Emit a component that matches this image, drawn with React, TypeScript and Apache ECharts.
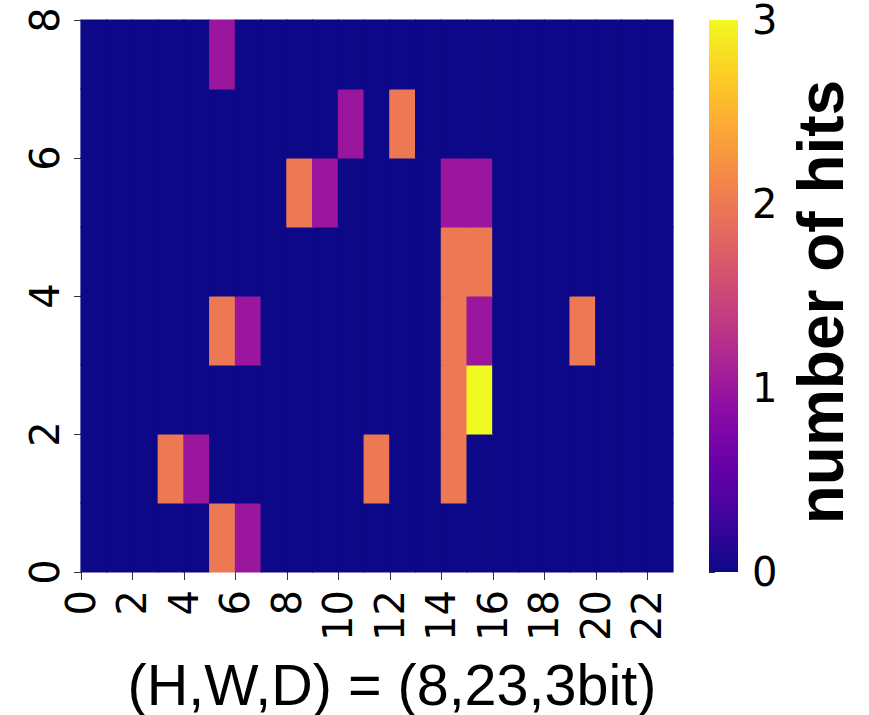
import React, { useEffect, useRef } from 'react';
import * as echarts from 'echarts';

// number of hits per cell, one array per row (row 0 = bottom), 23 columns each
const hitsRow0 = [0, 0, 0, 0, 0, 2, 1, 0, 0, 0, 0, 0, 0, 0, 0, 0, 0, 0, 0, 0, 0, 0, 0];
const hitsRow1 = [0, 0, 0, 2, 1, 0, 0, 0, 0, 0, 0, 2, 0, 0, 2, 0, 0, 0, 0, 0, 0, 0, 0];
const hitsRow2 = [0, 0, 0, 0, 0, 0, 0, 0, 0, 0, 0, 0, 0, 0, 2, 3, 0, 0, 0, 0, 0, 0, 0];
const hitsRow3 = [0, 0, 0, 0, 0, 2, 1, 0, 0, 0, 0, 0, 0, 0, 2, 1, 0, 0, 0, 2, 0, 0, 0];
const hitsRow4 = [0, 0, 0, 0, 0, 0, 0, 0, 0, 0, 0, 0, 0, 0, 2, 2, 0, 0, 0, 0, 0, 0, 0];
const hitsRow5 = [0, 0, 0, 0, 0, 0, 0, 0, 2, 1, 0, 0, 0, 0, 1, 1, 0, 0, 0, 0, 0, 0, 0];
const hitsRow6 = [0, 0, 0, 0, 0, 0, 0, 0, 0, 0, 1, 0, 2, 0, 0, 0, 0, 0, 0, 0, 0, 0, 0];
const hitsRow7 = [0, 0, 0, 0, 0, 1, 0, 0, 0, 0, 0, 0, 0, 0, 0, 0, 0, 0, 0, 0, 0, 0, 0];
const hitRows = [hitsRow0, hitsRow1, hitsRow2, hitsRow3, hitsRow4, hitsRow5, hitsRow6, hitsRow7];

const gridWidthCells = 23;
const gridHeightCells = 8;
const xTicks = [0, 2, 4, 6, 8, 10, 12, 14, 16, 18, 20, 22];
const yTicks = [0, 2, 4, 6, 8];
const cbarTicks = [0, 1, 2, 3];
const cbarRange = [0, 3];

const titleText = '(H,W,D) = (8,23,3bit)';
const bitsText = '552 bits';
const cbarLabel = 'number of hits';

const plasma = [
  '#0d0887', '#41049d', '#6a00a8', '#8f0da4', '#b12a90', '#cc4778',
  '#e16462', '#f2844b', '#fca636', '#fcce25', '#f0f921',
];

const tickFont = 'DejaVu Sans';
const textFont = 'Liberation Sans';

export default function App() {
  const ref = useRef<HTMLDivElement>(null);

  useEffect(() => {
    document.body.style.margin = '0';
    const el = ref.current!;
    const chart = echarts.init(el, null, { renderer: 'svg' });

    const cells: number[][] = [];
    hitRows.forEach((row, r) => row.forEach((v, c) => cells.push([c, r, v])));

    const stops = plasma.map((color, i) => ({ offset: i / (plasma.length - 1), color }));

    const option: any = {
      animation: false,
      backgroundColor: '#ffffff',
      grid: [
        { left: 81, top: 20, width: 592, height: 552, containLabel: false, outerBoundsMode: 'none' },
        { left: 709, top: 20, width: 29, height: 552, containLabel: false, outerBoundsMode: 'none' },
      ],
      xAxis: [
        {
          type: 'value', gridIndex: 0, min: 0, max: gridWidthCells,
          axisLine: { show: false },
          splitLine: { show: false },
          axisTick: { show: true, length: 8, lineStyle: { color: '#333', width: 1 }, customValues: xTicks },
          axisLabel: {
            show: true, rotate: 90, margin: 18, fontSize: 40, fontFamily: tickFont, color: '#000',
            customValues: xTicks,
          },
        },
        {
          type: 'value', gridIndex: 1, min: 0, max: 1, show: false,
        },
      ],
      yAxis: [
        {
          type: 'value', gridIndex: 0, min: 0, max: gridHeightCells,
          axisLine: { show: false },
          splitLine: { show: false },
          axisTick: { show: true, length: 7, lineStyle: { color: '#333', width: 1 }, customValues: yTicks },
          axisLabel: {
            show: true, rotate: 90, margin: 16, fontSize: 40, fontFamily: tickFont, color: '#000',
            customValues: yTicks,
          },
        },
        {
          type: 'value', gridIndex: 1, min: cbarRange[0], max: cbarRange[1], position: 'right',
          axisLine: { show: false },
          splitLine: { show: false },
          axisTick: { show: true, length: 6, lineStyle: { color: '#333', width: 1 }, customValues: cbarTicks },
          axisLabel: {
            show: true, margin: 14, fontSize: 40, fontFamily: tickFont, color: '#000',
            customValues: cbarTicks,
          },
        },
      ],
      visualMap: {
        type: 'continuous', show: false, min: cbarRange[0], max: cbarRange[1],
        dimension: 2, seriesIndex: 0, inRange: { color: plasma },
      },
      series: [
        {
          type: 'custom',
          xAxisIndex: 0, yAxisIndex: 0,
          encode: { x: 0, y: 1 },
          data: cells,
          renderItem: (params: any, api: any) => {
            const c = api.value(0) as number;
            const r = api.value(1) as number;
            const tl = api.coord([c, r + 1]);
            const br = api.coord([c + 1, r]);
            const color = api.visual('color');
            return {
              type: 'rect',
              shape: { x: tl[0], y: tl[1], width: br[0] - tl[0], height: br[1] - tl[1] },
              style: { fill: color, stroke: color, lineWidth: 1.2 },
            };
          },
        },
        {
          type: 'custom',
          xAxisIndex: 1, yAxisIndex: 1,
          encode: { x: 0, y: 1 },
          data: [[0, cbarRange[1]]],
          renderItem: (params: any, api: any) => {
            const tl = api.coord([0, cbarRange[1]]);
            const br = api.coord([1, cbarRange[0]]);
            return {
              type: 'rect',
              shape: { x: tl[0], y: tl[1], width: br[0] - tl[0], height: br[1] - tl[1] },
              style: { fill: new echarts.graphic.LinearGradient(0, 1, 0, 0, stops) },
            };
          },
        },
      ],
      graphic: [
        {
          type: 'text', x: 661, y: 83.5,
          style: {
            text: bitsText, fill: '#ffffff', fontSize: 65, fontWeight: 'bold', fontFamily: textFont,
            align: 'right', verticalAlign: 'middle',
          },
        },
        {
          type: 'text', x: 821, y: 302, rotation: Math.PI / 2,
          style: {
            text: cbarLabel, fill: '#000000', fontSize: 64, fontWeight: 'bold', fontFamily: textFont,
            align: 'center', verticalAlign: 'middle',
          },
        },
        {
          type: 'text', x: 392, y: 685,
          style: {
            text: titleText, fill: '#000000', fontSize: 57.5, fontFamily: textFont,
            align: 'center', verticalAlign: 'middle',
          },
        },
      ],
    };

    chart.setOption(option);
    return () => chart.dispose();
  }, []);

  return (
    <div
      ref={ref}
      style={{ position: 'fixed', left: 0, top: 0, width: 869, height: 715, background: '#fff' }}
    />
  );
}
